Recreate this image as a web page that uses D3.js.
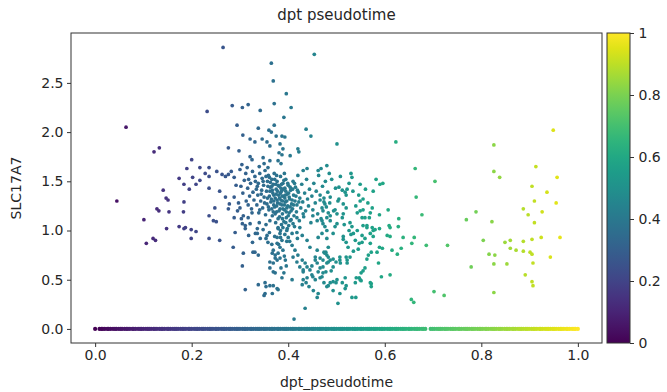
<!DOCTYPE html>
<html>
<head>
	<script src="https://d3js.org/d3.v7.min.js"></script>
	<style>
		body { margin: 0; background: white; }
		text { font-family: 'DejaVu Sans', sans-serif; fill: #262626; }
	</style>
</head>
<body>
<svg id="container"></svg>
</body>
<script>
// data: [pseudotime, SLC17A7]
let earlyCells = [
	[0.045,1.30],[0.064,2.05],[0.101,1.11],[0.106,0.87],[0.120,0.92],[0.125,0.90],[0.122,1.80],[0.133,1.84],
	[0.128,1.22],[0.132,1.20],[0.141,1.41],[0.147,1.33],[0.151,1.31],[0.153,1.19],[0.148,1.02],[0.174,1.04],
	[0.184,1.02],[0.187,1.03],[0.199,1.01],[0.209,0.99],[0.199,0.92],[0.174,1.53],[0.184,1.47],[0.190,1.63],
	[0.200,1.72],[0.184,1.29],[0.183,1.19],[0.195,1.42],[0.202,1.54],[0.209,1.47],[0.217,1.51],[0.217,1.64],
	[0.228,1.58],[0.236,1.55],[0.236,1.64],[0.232,2.21],[0.236,1.43],[0.236,1.15],[0.245,1.10],[0.251,1.09],
	[0.236,0.92],[0.248,1.23],[0.252,1.60],[0.258,1.40],[0.258,0.90],[0.263,1.57],[0.270,1.55],[0.276,1.57],
	[0.282,1.60],[0.288,1.54],[0.276,1.84],[0.284,2.27],[0.294,2.07],[0.270,1.34],[0.276,1.22],[0.278,1.27],
	[0.288,1.34],[0.286,0.83],[0.288,1.13],[0.290,0.98],[0.292,1.46],[0.265,2.86],[0.298,1.81],[0.297,1.28],
	[0.295,1.20]
];

let upperCells = [
	[0.454,2.79],[0.365,2.70],[0.369,2.52],[0.396,2.39],[0.305,2.25],[0.317,2.28],[0.342,2.22],[0.371,2.29],
	[0.406,2.25],[0.391,2.15],[0.371,2.07],[0.338,2.04],[0.360,2.02],[0.365,2.00],[0.375,1.96],[0.387,1.96],
	[0.393,1.95],[0.437,2.03],[0.447,1.96],[0.623,1.90],[0.501,1.88],[0.306,1.97],[0.321,1.93],[0.331,1.90],
	[0.346,1.93],[0.356,1.90],[0.362,1.86],[0.383,1.88],[0.389,1.83],[0.381,1.79],[0.387,1.77],[0.321,1.75],
	[0.325,1.72],[0.348,1.74],[0.362,1.71],[0.379,1.71],[0.385,1.68],[0.404,1.76],[0.420,1.83],[0.422,1.80],
	[0.304,1.67],[0.315,1.64],[0.340,1.65],[0.350,1.68],[0.358,1.64],[0.480,1.66],[0.462,1.61],[0.468,1.63],
	[0.485,1.58],[0.530,1.58],[0.532,1.54],[0.549,1.47],[0.590,1.47],[0.596,1.48],[0.439,1.63],[0.431,1.61],
	[0.582,1.52]
];

let coreCells = [
	[0.300,1.62],[0.312,1.58],[0.318,1.52],[0.326,1.60],[0.331,1.55],[0.338,1.48],[0.334,1.42],[0.341,1.58],
	[0.346,1.53],[0.349,1.46],[0.352,1.61],[0.355,1.40],[0.357,1.50],[0.359,1.56],[0.361,1.35],[0.363,1.44],
	[0.364,1.29],[0.366,1.52],[0.368,1.38],[0.369,1.47],[0.371,1.58],[0.372,1.24],[0.373,1.33],[0.375,1.42],
	[0.376,1.19],[0.377,1.50],[0.378,1.28],[0.380,1.36],[0.381,1.45],[0.382,1.14],[0.383,1.22],[0.384,1.55],
	[0.385,1.31],[0.386,1.40],[0.387,1.26],[0.388,1.17],[0.389,1.48],[0.390,1.35],[0.391,1.09],[0.392,1.21],
	[0.393,1.43],[0.394,1.29],[0.395,1.52],[0.396,1.13],[0.398,1.37],[0.399,1.25],[0.400,1.46],[0.401,1.05],
	[0.402,1.18],[0.403,1.32],[0.405,1.41],[0.406,1.11],[0.407,1.27],[0.409,1.22],[0.410,1.50],[0.411,1.36],
	[0.412,1.15],[0.414,1.30],[0.415,1.44],[0.417,1.19],[0.418,1.26],[0.420,1.56],[0.421,1.39],[0.423,1.10],
	[0.424,1.33],[0.426,1.23],[0.428,1.47],[0.430,1.29],[0.432,1.14],[0.434,1.38],[0.436,1.20],[0.438,1.52],
	[0.440,1.32],[0.442,1.25],[0.444,1.42],[0.447,1.08],[0.449,1.35],[0.451,1.21],[0.453,1.48],[0.456,1.28],
	[0.458,1.40],[0.461,1.17],[0.463,1.56],[0.466,1.36],[0.468,1.12],[0.471,1.45],[0.474,1.33],[0.477,1.50],
	[0.479,1.24],[0.482,1.39],[0.486,1.28],[0.490,1.52],[0.494,1.20],[0.498,1.43],[0.503,1.30],[0.508,1.55],
	[0.514,1.27],[0.520,1.36],[0.526,1.48],[0.534,1.40],[0.540,1.25],[0.546,1.36],[0.560,1.42],[0.565,1.28],
	[0.302,1.45],[0.306,1.38],[0.309,1.51],[0.313,1.30],[0.316,1.43],[0.320,1.35],[0.322,1.48],[0.324,1.22],
	[0.327,1.39],[0.329,1.31],[0.332,1.50],[0.335,1.26],[0.337,1.36],[0.339,1.18],[0.343,1.30],[0.345,1.41],
	[0.347,1.23],[0.350,1.34],[0.353,1.16],[0.356,1.27],[0.358,1.45],[0.360,1.21],[0.362,1.10],[0.365,1.32],
	[0.367,1.15],[0.370,1.26],[0.374,1.08],[0.379,1.03],[0.384,1.00],[0.303,1.12],[0.311,1.02],[0.318,0.95],
	[0.326,0.88],[0.332,0.97],[0.340,1.08],[0.348,1.01],[0.354,0.92],[0.361,0.98],[0.366,0.86],[0.372,0.94],
	[0.354,1.06],[0.386,1.06],[0.393,0.96],[0.398,1.02],[0.403,0.89],[0.408,0.97],[0.413,1.04],[0.419,0.92],
	[0.362,1.40],[0.366,1.45],[0.370,1.36],[0.374,1.47],[0.378,1.40],[0.382,1.33],[0.386,1.47],[0.390,1.42],
	[0.394,1.36],[0.397,1.30],[0.401,1.38],[0.404,1.24],[0.370,1.30],[0.376,1.25],[0.381,1.20],[0.388,1.30],
	[0.392,1.26],[0.396,1.19],[0.400,1.15],[0.384,1.38],[0.366,1.22],[0.361,1.54],[0.376,1.56],[0.392,1.58],
	[0.409,1.42],[0.413,1.48],[0.388,1.12],[0.395,1.08],[0.379,1.12],[0.373,1.17],
	[0.344,1.37],[0.348,1.50],[0.351,1.28],[0.354,1.55],[0.357,1.33],[0.359,1.24],[0.363,1.49],[0.367,1.41],
	[0.369,1.19],[0.372,1.52],[0.375,1.37],[0.377,1.31],[0.379,1.46],[0.383,1.27],[0.385,1.43],[0.387,1.35],
	[0.389,1.22],[0.391,1.51],[0.393,1.33],[0.395,1.40],[0.397,1.23],[0.399,1.48],[0.402,1.34],[0.404,1.44],
	[0.406,1.20],[0.408,1.31],[0.411,1.26],[0.416,1.35],[0.419,1.41],[0.422,1.29],[0.336,1.45],[0.341,1.21]
];

let midCells = [
	[0.505,1.44],[0.512,1.41],[0.518,1.39],[0.522,1.42],[0.505,1.32],[0.487,1.34],[0.466,1.31],[0.474,1.29],
	[0.476,1.27],[0.549,1.30],[0.555,1.32],[0.574,1.23],[0.576,1.40],[0.549,1.20],[0.543,1.18],[0.555,1.21],
	[0.568,1.13],[0.559,1.13],[0.520,1.23],[0.514,1.17],[0.512,1.13],[0.501,1.17],[0.497,1.21],[0.487,1.15],
	[0.480,1.13],[0.472,1.20],[0.470,1.23],[0.570,1.18],[0.589,1.16],[0.535,0.79],[0.524,0.83],[0.520,0.88],
	[0.514,0.91],[0.514,0.94],[0.526,1.00],[0.530,0.96],[0.532,1.04],[0.528,1.08],[0.516,1.06],[0.501,1.07],
	[0.497,1.04],[0.493,0.97],[0.480,1.00],[0.476,1.04],[0.487,1.10],[0.470,1.10],[0.483,1.18],[0.555,1.05],
	[0.563,1.05],[0.576,1.00],[0.570,0.97],[0.559,0.92],[0.570,0.87],[0.576,0.94],[0.553,0.95],[0.553,1.13],
	[0.609,1.05],[0.611,0.94],[0.589,1.02],[0.580,1.01],[0.574,1.03],[0.563,1.03],[0.589,0.83],[0.587,0.67],
	[0.584,0.78],[0.563,0.71],[0.572,0.78],[0.566,0.75],[0.545,0.81],[0.553,0.88],[0.547,0.87],[0.539,0.90],
	[0.535,0.97],[0.543,1.00],[0.522,0.67],[0.508,0.67],[0.499,0.68],[0.493,0.71],[0.520,0.73],[0.507,0.73],
	[0.478,0.78],[0.480,0.75],[0.483,0.68],[0.472,0.70]
];

let lowerCells = [
	[0.572,0.46],[0.572,0.43],[0.532,0.32],[0.540,0.32],[0.503,0.26],[0.507,0.36],[0.518,0.41],[0.520,0.44],
	[0.539,0.47],[0.547,0.52],[0.551,0.57],[0.555,0.59],[0.559,0.62],[0.541,0.52],[0.551,0.49],[0.570,0.47],
	[0.549,0.50],[0.493,0.48],[0.499,0.47],[0.512,0.47],[0.483,0.44],[0.474,0.47],[0.472,0.57],[0.478,0.58],
	[0.489,0.59],[0.493,0.39],[0.412,0.10],[0.435,0.21],[0.460,0.32],[0.462,0.36],[0.452,0.39],[0.443,0.43],
	[0.437,0.47],[0.429,0.45],[0.431,0.50],[0.439,0.52],[0.449,0.55],[0.408,0.50],[0.480,0.43],[0.487,0.47],
	[0.501,0.50],[0.518,0.52],[0.493,0.63],[0.507,0.70],[0.522,0.70],[0.528,0.73],[0.470,0.53],[0.466,0.62],
	[0.460,0.67],[0.487,0.70],[0.483,0.73],[0.474,0.78],[0.445,0.60],[0.449,0.64],[0.456,0.70],[0.431,0.60],
	[0.424,0.63],[0.418,0.68],[0.362,0.62],[0.369,0.58],[0.369,0.67],[0.377,0.70],[0.373,0.75],[0.338,0.45],
	[0.352,0.36],[0.367,0.36],[0.377,0.41],[0.369,0.44],[0.354,0.43],[0.331,0.78],[0.338,0.75],[0.311,0.40],
	[0.352,0.47],[0.362,0.44],[0.379,0.40],[0.350,0.34],[0.305,0.64],[0.307,0.77],[0.327,0.78],[0.300,1.23],
	[0.317,1.13],[0.311,1.05],[0.305,1.07],[0.321,1.07],[0.336,1.02],[0.342,0.92],[0.336,0.97],[0.325,1.18],
	[0.307,1.15],[0.317,1.26],[0.356,0.95],[0.358,0.88],[0.367,0.77],[0.369,0.80],[0.373,0.72],[0.373,0.57],
	[0.362,0.68],[0.377,0.87],[0.383,0.83],[0.379,0.77],[0.389,0.80],[0.387,0.90],[0.377,0.93],[0.383,0.97],
	[0.379,1.02],[0.389,1.03],[0.397,1.00],[0.400,0.93],[0.408,0.85],[0.414,0.80],[0.410,0.73],[0.420,0.75],
	[0.429,0.70],[0.435,0.67],[0.439,0.63],[0.431,0.58],[0.451,0.53],[0.456,0.50],[0.466,0.52],[0.462,0.58],
	[0.472,0.63],[0.480,0.67],[0.466,0.72],[0.456,0.73],[0.460,0.80],[0.445,0.83],[0.439,0.90],[0.429,0.95],
	[0.418,0.98],[0.424,1.03],[0.410,1.07],[0.404,1.10],[0.418,1.13],[0.431,1.17],[0.451,1.15],[0.460,1.10],
	[0.472,1.07],[0.470,0.97],[0.462,0.93],[0.480,0.92],[0.483,0.83],[0.476,0.77],[0.385,0.62],[0.391,0.57],
	[0.387,0.52],[0.394,0.70],[0.396,0.64],[0.383,0.72],[0.380,0.86],[0.397,0.89],[0.384,0.93],[0.392,0.74]
];

let lateCells = [
	[0.949,2.02],[0.826,1.87],[0.913,1.65],[0.826,1.60],[0.838,1.54],[0.957,1.54],[0.663,1.63],[0.704,1.50],
	[0.665,1.34],[0.905,1.45],[0.936,1.39],[0.910,1.30],[0.955,1.28],[0.887,1.22],[0.897,1.16],[0.926,1.19],
	[0.910,1.08],[0.789,1.19],[0.769,1.11],[0.822,1.09],[0.677,1.16],[0.607,1.21],[0.629,1.12],[0.628,1.04],
	[0.611,1.03],[0.605,0.95],[0.638,0.93],[0.661,0.93],[0.656,0.87],[0.634,0.82],[0.626,0.76],[0.615,0.80],
	[0.595,0.82],[0.686,0.85],[0.730,0.85],[0.804,0.90],[0.849,0.88],[0.860,0.90],[0.860,0.82],[0.872,0.80],
	[0.887,0.89],[0.887,0.79],[0.905,0.91],[0.924,0.93],[0.963,0.93],[0.901,0.78],[0.905,0.76],[0.816,0.76],
	[0.828,0.75],[0.943,0.73],[0.826,0.66],[0.853,0.66],[0.907,0.67],[0.779,0.63],[0.891,0.55],[0.905,0.48],
	[0.907,0.44],[0.826,0.37],[0.611,0.55],[0.593,0.53],[0.702,0.38],[0.723,0.34],[0.655,0.30],[0.660,0.27]
];

// cells with zero expression, pseudotime only
let zeroPseudotime = [
	0.000,0.009,0.013,0.016,0.020,0.025,0.028,0.032,0.037,0.041,0.044,0.049,0.053,0.056,0.061,0.065,
	0.068,0.072,0.077,0.080,0.084,0.089,0.093,0.096,0.100,0.105,0.109,0.112,0.116,0.121,0.124,0.128,
	0.133,0.137,0.140,0.144,0.149,0.152,0.156,0.161,0.165,0.168,0.172,0.177,0.181,0.184,0.188,0.193,
	0.196,0.200,0.205,0.209,0.212,0.216,0.221,0.224,0.228,0.233,0.237,0.240,0.244,0.249,0.252,0.256,
	0.261,0.265,0.268,0.272,0.277,0.280,0.284,0.289,0.293,0.296,0.300,0.305,0.309,0.312,0.316,0.321,
	0.324,0.328,0.333,0.337,0.340,0.344,0.349,0.352,0.356,0.361,0.365,0.368,0.372,0.377,0.380,0.384,
	0.389,0.393,0.396,0.400,0.405,0.409,0.412,0.416,0.421,0.424,0.428,0.433,0.437,0.440,0.444,0.449,
	0.452,0.456,0.461,0.465,0.468,0.472,0.477,0.480,0.484,0.489,0.493,0.496,0.500,0.505,0.509,0.512,
	0.516,0.521,0.524,0.528,0.533,0.537,0.540,0.544,0.549,0.552,0.556,0.561,0.565,0.568,0.572,0.577,
	0.580,0.584,0.589,0.593,0.596,0.600,0.605,0.609,0.612,0.616,0.621,0.624,0.628,0.633,0.637,0.640,
	0.644,0.649,0.652,0.656,0.661,0.665,0.668,0.672,0.677,0.680,0.684,0.695,0.699,0.703,0.708,0.712,
	0.715,0.719,0.724,0.727,0.731,0.736,0.740,0.743,0.747,0.752,0.755,0.759,0.764,0.768,0.771,0.775,
	0.780,0.783,0.787,0.792,0.796,0.799,0.803,0.808,0.811,0.815,0.820,0.824,0.827,0.831,0.836,0.839,
	0.843,0.848,0.852,0.855,0.859,0.864,0.867,0.871,0.876,0.880,0.883,0.887,0.892,0.895,0.899,0.904,
	0.908,0.911,0.915,0.920,0.923,0.927,0.932,0.936,0.939,0.943,0.948,0.951,0.955,0.960,0.964,0.967,
	0.971,0.976,0.979,0.983,0.988,0.992,0.995,1.000
];

let xTicks = [0.0, 0.2, 0.4, 0.6, 0.8, 1.0];
let yTicks = [0.0, 0.5, 1.0, 1.5, 2.0, 2.5];
let cbarTicks = [0, 0.2, 0.4, 0.6, 0.8, 1];
</script>

<script>
let svg = d3.select('#container')
	.attr('width', 667)
	.attr('height', 392);

let plot = {left: 71, top: 33, right: 602, bottom: 343};
let cbar = {left: 607, width: 23};

let x = d3.scaleLinear().domain([-0.05, 1.05]).range([plot.left, plot.right]);
let y = d3.scaleLinear().domain([-0.143, 3.007]).range([plot.bottom, plot.top]);
let color = d3.scaleSequential(d3.interpolateViridis).domain([0, 1]);

// zero-expression band
svg.append('g')
	.selectAll('circle')
	.data(zeroPseudotime)
	.join('circle')
	.attr('cx', (d) => x(d))
	.attr('cy', y(0))
	.attr('r', 2.1)
	.attr('fill', (d) => color(d));

// expressing cells
let cells = earlyCells.concat(upperCells, coreCells, midCells, lowerCells, lateCells);
svg.append('g')
	.selectAll('circle')
	.data(cells)
	.join('circle')
	.attr('cx', (d) => x(d[0]))
	.attr('cy', (d) => y(d[1]))
	.attr('r', 1.85)
	.attr('fill', (d) => color(d[0]));

// frame
svg.append('rect')
	.attr('x', plot.left)
	.attr('y', plot.top)
	.attr('width', plot.right - plot.left)
	.attr('height', plot.bottom - plot.top)
	.attr('fill', 'none')
	.attr('stroke', '#333')
	.attr('stroke-width', 1);

let xAxis = svg.append('g')
	.attr('transform', `translate(0,${plot.bottom})`)
	.call(d3.axisBottom(x).tickValues(xTicks).tickFormat(d3.format('.1f')).tickSize(4).tickPadding(3));
let yAxis = svg.append('g')
	.attr('transform', `translate(${plot.left},0)`)
	.call(d3.axisLeft(y).tickValues(yTicks).tickFormat(d3.format('.1f')).tickSize(4).tickPadding(3.5));

[xAxis, yAxis].forEach((g) => {
	g.select('.domain').remove();
	g.selectAll('line').attr('stroke', '#333');
	g.selectAll('text').style('font-family', "'DejaVu Sans', sans-serif").style('font-size', '14px').attr('fill', '#262626');
});

svg.append('text')
	.attr('x', (plot.left + plot.right) / 2)
	.attr('y', 20)
	.attr('text-anchor', 'middle')
	.style('font-size', '15px')
	.text('dpt pseudotime');

svg.append('text')
	.attr('x', (plot.left + plot.right) / 2)
	.attr('y', 387)
	.attr('text-anchor', 'middle')
	.style('font-size', '14px')
	.text('dpt_pseudotime');

svg.append('text')
	.attr('transform', `translate(21,${(plot.top + plot.bottom) / 2}) rotate(-90)`)
	.attr('text-anchor', 'middle')
	.style('font-size', '14px')
	.text('SLC17A7');

// colorbar
let grad = svg.append('defs').append('linearGradient')
	.attr('id', 'viridis')
	.attr('x1', 0).attr('y1', 1).attr('x2', 0).attr('y2', 0);
grad.selectAll('stop')
	.data(d3.range(0, 1.0001, 0.05))
	.join('stop')
	.attr('offset', (d) => d)
	.attr('stop-color', (d) => color(d));

svg.append('rect')
	.attr('x', cbar.left)
	.attr('y', plot.top)
	.attr('width', cbar.width)
	.attr('height', plot.bottom - plot.top)
	.attr('fill', 'url(#viridis)')
	.attr('stroke', '#333')
	.attr('stroke-width', 1);

let cy = d3.scaleLinear().domain([0, 1]).range([plot.bottom, plot.top]);
let cAxis = svg.append('g')
	.attr('transform', `translate(${cbar.left + cbar.width},0)`)
	.call(d3.axisRight(cy).tickValues(cbarTicks).tickFormat((d) => d3.format('')(d)).tickSize(4).tickPadding(4.5));
cAxis.select('.domain').remove();
cAxis.selectAll('line').attr('stroke', '#333');
cAxis.selectAll('text').style('font-family', "'DejaVu Sans', sans-serif").style('font-size', '14px').attr('fill', '#262626');
</script>
</html>
